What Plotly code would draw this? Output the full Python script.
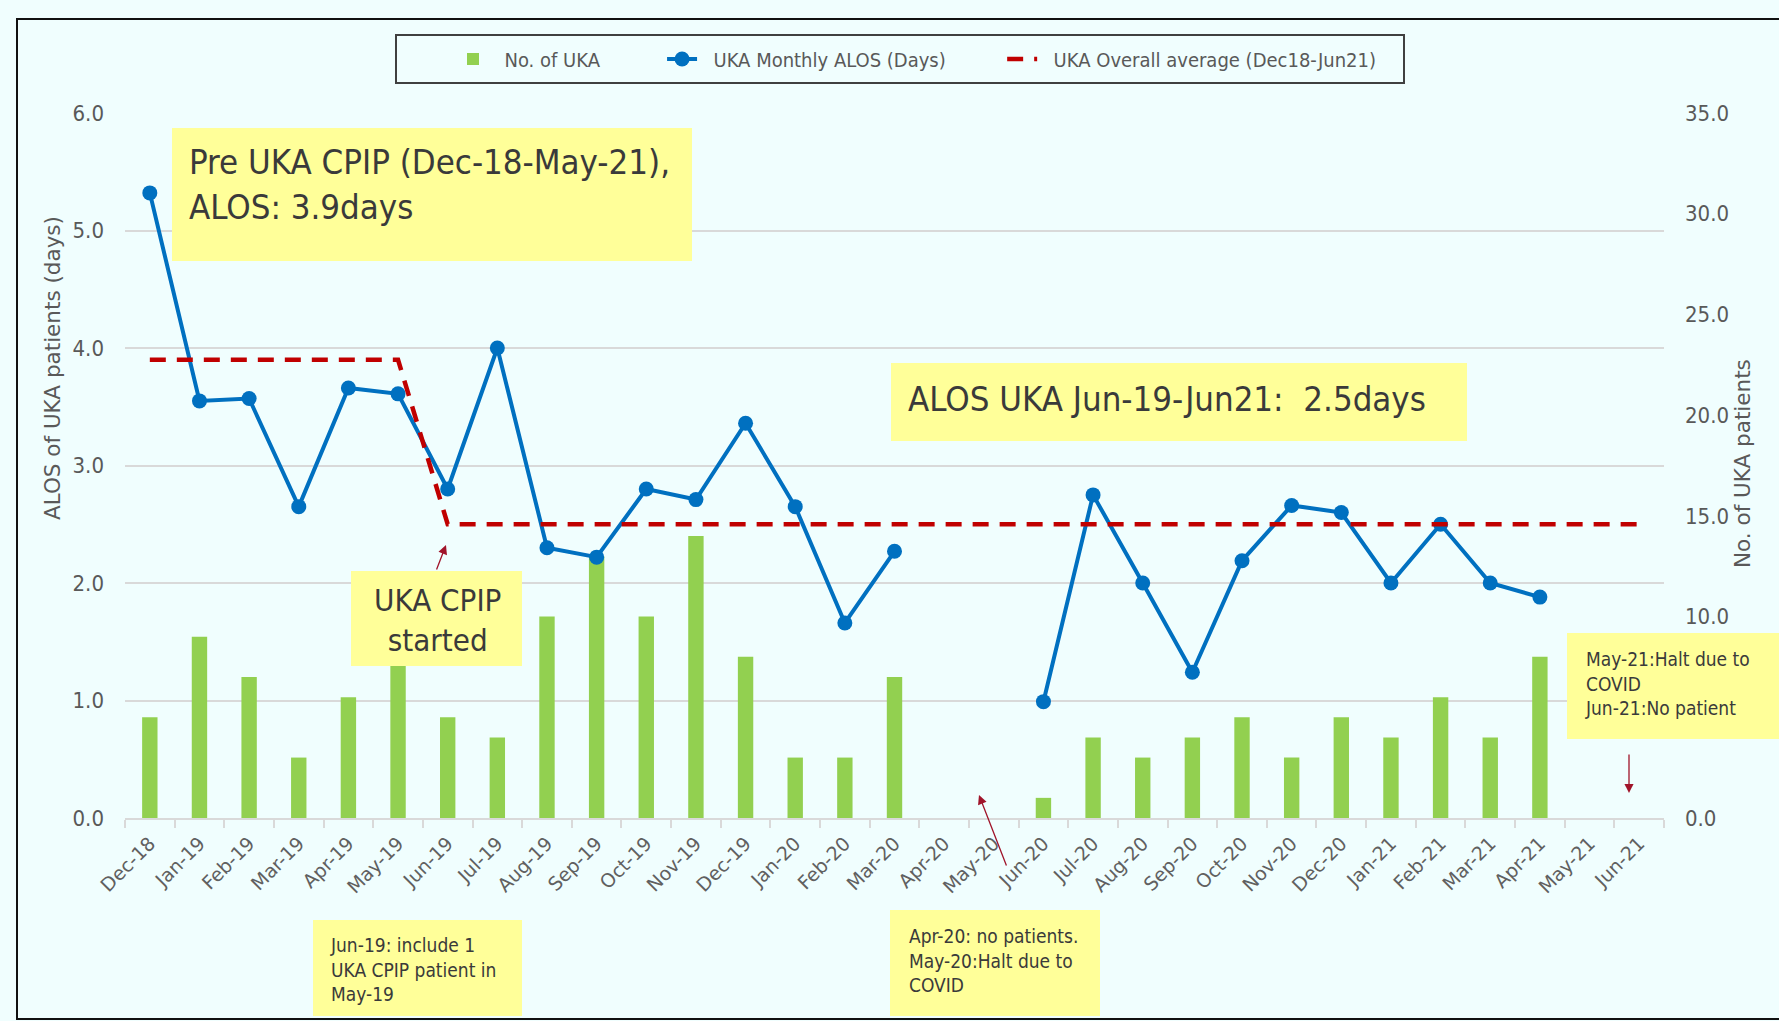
import plotly.graph_objects as go

# ---------------- data ----------------
months = ["Dec-18", "Jan-19", "Feb-19", "Mar-19", "Apr-19", "May-19", "Jun-19", "Jul-19",
          "Aug-19", "Sep-19", "Oct-19", "Nov-19", "Dec-19", "Jan-20", "Feb-20", "Mar-20",
          "Apr-20", "May-20", "Jun-20", "Jul-20", "Aug-20", "Sep-20", "Oct-20", "Nov-20",
          "Dec-20", "Jan-21", "Feb-21", "Mar-21", "Apr-21", "May-21", "Jun-21"]

uka_count = [5, 9, 7, 3, 6, 8, 5, 4, 10, 13, 10, 14, 8, 3, 3, 7,
             0, 0, 1, 4, 3, 4, 5, 3, 5, 4, 6, 4, 8, 0, 0]

alos_monthly = [5.32, 3.55, 3.57, 2.65, 3.66, 3.61, 2.80, 4.00, 2.30, 2.22, 2.80, 2.71,
                3.36, 2.65, 1.66, 2.27, None, None, 0.99, 2.75, 2.00, 1.24, 2.19, 2.66,
                2.60, 2.00, 2.50, 2.00, 1.88, None, None]

overall_avg = [3.9, 3.9, 3.9, 3.9, 3.9, 3.9, 2.5, 2.5, 2.5, 2.5, 2.5, 2.5, 2.5, 2.5, 2.5, 2.5,
               2.5, 2.5, 2.5, 2.5, 2.5, 2.5, 2.5, 2.5, 2.5, 2.5, 2.5, 2.5, 2.5, 2.5, 2.5]

left_ticks = [0, 1, 2, 3, 4, 5, 6]
right_ticks = [0, 10, 15, 20, 25, 30, 35]

series_names = ["No. of UKA", "UKA Monthly ALOS (Days)", "UKA Overall average (Dec18-Jun21)"]

# ---------------- layout geometry ----------------
W, H = 1779, 1021
PL, PR, PT, PB = 125, 1664, 113, 818


def px(x):
    return (x - PL) / (PR - PL)


def py(y):
    return (PB - y) / (PB - PT)


NARROW = "Liberation Sans Narrow, Arial Narrow, DejaVu Sans Condensed, sans-serif"
VERD = "DejaVu Sans, Verdana, sans-serif"
GREY = "#595959"
TXT = "#3a3a3a"
YEL = "#FFFF99"
BG = "#F0FEFE"
ARROW = "#A0142A"
NB = "\u00a0"

fig = go.Figure()

fig.add_trace(go.Bar(
    x=months, y=uka_count, name=NB * 2 + series_names[0] + NB * 10,
    marker=dict(color="#92D050", line=dict(width=0)), width=0.31, yaxis="y",
))
fig.add_trace(go.Scatter(
    x=months, y=alos_monthly, name=NB * 2 + series_names[1] + NB * 9,
    mode="lines+markers", line=dict(color="#0070C0", width=4),
    marker=dict(size=15, color="#0070C0"), yaxis="y2",
))
fig.add_trace(go.Scatter(
    x=months, y=overall_avg, name=NB * 2 + series_names[2],
    mode="lines", line=dict(color="#C00000", width=4.5, dash="16px,11px"), yaxis="y2",
))

shapes = []


def box(x0, y0, x1, y1, fill=YEL, line=None):
    shapes.append(dict(type="rect", xref="paper", yref="paper",
                       x0=px(x0), x1=px(x1), y0=py(y1), y1=py(y0),
                       fillcolor=fill, line=dict(width=0) if line is None else line,
                       layer="above"))


box(172, 128, 692, 261)
box(891, 363, 1467, 441)
box(351, 571, 522, 666)
box(313, 920, 522, 1016)
box(890, 910, 1100, 1016)
box(1567, 633, 1790, 739)
# legend frame
box(396, 35, 1404, 83, fill="rgba(0,0,0,0)", line=dict(color="#404040", width=2))
# outer frame
box(17, 19, 1800, 1019, fill="rgba(0,0,0,0)", line=dict(color="#111111", width=2))

annotations = []


def txt(text, x, y, size, xanchor="left", align="left", font=NARROW, color=TXT, angle=0):
    annotations.append(dict(text=text, x=px(x), y=py(y), xref="paper", yref="paper",
                            xanchor=xanchor, yanchor="middle", align=align,
                            showarrow=False, textangle=angle,
                            font=dict(family=font, size=size, color=color)))


txt("Pre UKA CPIP (Dec-18-May-21),", 187, 162, 34.5)
txt("ALOS: 3.9days", 187, 207, 34.5)
txt("ALOS UKA Jun-19-Jun21:\u00a0 2.5days", 906, 399, 34.5)
txt("UKA CPIP<br>started", 437, 620, 31, xanchor="center", align="center")
txt("Jun-19: include 1<br>UKA CPIP patient in<br>May-19", 328, 969, 19)
txt("Apr-20: no patients.<br>May-20:Halt due to<br>COVID", 907, 960, 19)
txt("May-21:Halt due to<br>COVID<br>Jun-21:No patient", 1583, 683, 19)

txt("ALOS of UKA patients (days)", 52, 368, 21.5, xanchor="center", align="center",
    font=VERD, color=GREY, angle=-90)
txt("No. of UKA patients", 1742, 464, 21.5, xanchor="center", align="center",
    font=VERD, color=GREY, angle=-90)


def arrow(hx, hy, tx, ty):
    annotations.append(dict(text="", x=px(hx), y=py(hy), xref="paper", yref="paper",
                            ax=tx - hx, ay=ty - hy, showarrow=True, arrowhead=2,
                            arrowsize=1.4, arrowwidth=1.3, arrowcolor=ARROW, standoff=0))


arrow(446, 545, 436, 571)
arrow(979, 795, 1007, 867)
arrow(1629, 793, 1629, 753)

fig.update_layout(
    width=W, height=H,
    margin=dict(l=PL, r=W - PR, t=PT, b=H - PB, pad=0),
    paper_bgcolor=BG, plot_bgcolor="rgba(0,0,0,0)",
    font=dict(family=NARROW, color=GREY),
    showlegend=True,
    legend=dict(orientation="h", xanchor="left", yanchor="middle",
                x=px(453), y=py(59), bgcolor="rgba(0,0,0,0)", borderwidth=0,
                font=dict(family=NARROW, size=20, color=GREY),
                traceorder="normal"),
    xaxis=dict(type="category", range=[-0.5, 30.5], tickangle=-45,
               tickson="boundaries", ticks="outside", ticklen=8, tickwidth=2,
               tickcolor="#D9D9D9", showline=True, linecolor="#D9D9D9", linewidth=2,
               showgrid=False, ticklabelstandoff=5,
               tickfont=dict(family=VERD, size=19, color="#606060")),
    yaxis=dict(side="right", range=[0, 35], tickvals=right_ticks, tickformat=".1f",
               showgrid=False, zeroline=False, ticks="", ticklabelstandoff=20,
               tickfont=dict(family=NARROW, size=22, color=GREY)),
    yaxis2=dict(side="left", overlaying="y", range=[0, 6], tickvals=left_ticks,
                tickformat=".1f", showgrid=True, gridcolor="#D9D9D9", gridwidth=2,
                zeroline=False, ticks="", ticklabelstandoff=20,
                tickfont=dict(family=NARROW, size=22, color=GREY)),
    shapes=shapes, annotations=annotations,
)

fig.write_html("out.html", config={"displayModeBar": False},
               post_script="document.body.style.margin='0';document.body.style.overflow='hidden';")
